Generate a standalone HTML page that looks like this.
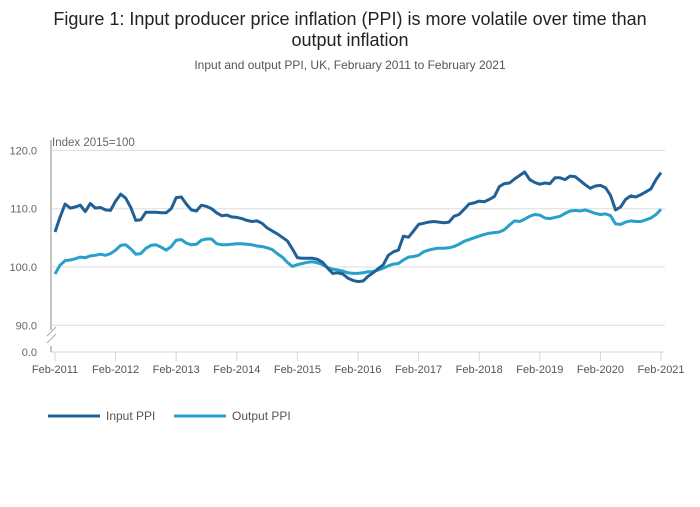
<!DOCTYPE html>
<html><head><meta charset="utf-8"><style>
body{margin:0;background:#fff;font-family:"Liberation Sans",sans-serif;}
</style></head><body>
<svg width="700" height="502" viewBox="0 0 700 502">
<text x="350" y="25" text-anchor="middle" font-size="18" fill="#222">Figure 1: Input producer price inflation (PPI) is more volatile over time than</text>
<text x="350" y="46" text-anchor="middle" font-size="18" fill="#222">output inflation</text>
<text x="350" y="69" text-anchor="middle" font-size="12" fill="#555">Input and output PPI, UK, February 2011 to February 2021</text>
<text x="52" y="146" font-size="11.5" fill="#666">Index 2015=100</text>
<g id="grid"></g><g id="axes"></g><g id="series"></g>
<g>
<line x1="48" y1="416" x2="100" y2="416" stroke="#206095" stroke-width="3"/>
<text x="106" y="420" font-size="12" fill="#555">Input PPI</text>
<line x1="174" y1="416" x2="226" y2="416" stroke="#27a0cc" stroke-width="3"/>
<text x="232" y="420" font-size="12" fill="#555">Output PPI</text>
</g>
</svg>
<script>
const yTicks=[90,100,110,120];
const yTickLabels=["90.0","100.0","110.0","120.0"];
const xTickLabels=["Feb-2011","Feb-2012","Feb-2013","Feb-2014","Feb-2015","Feb-2016","Feb-2017","Feb-2018","Feb-2019","Feb-2020","Feb-2021"];
const inputPPI=[106,108.5,110.8,110.1,110.3,110.6,109.5,110.9,110.1,110.2,109.8,109.7,
111.3,112.5,111.8,110.2,108.0,108.1,109.4,109.4,109.4,109.3,109.3,110.0,
111.9,112.0,110.8,109.8,109.6,110.6,110.4,110.0,109.3,108.8,108.9,108.6,
108.5,108.3,108.0,107.8,107.9,107.5,106.7,106.2,105.7,105.1,104.5,103.1,
101.6,101.5,101.5,101.5,101.3,100.8,99.8,98.9,99.0,98.8,98.1,97.7,
97.5,97.6,98.4,99.0,99.7,100.4,102.0,102.6,102.9,105.3,105.1,106.2,
107.3,107.5,107.7,107.8,107.7,107.6,107.7,108.7,109.0,109.9,110.8,111.0,
111.3,111.2,111.6,112.1,113.8,114.3,114.4,115.1,115.7,116.3,115.0,114.5,
114.2,114.4,114.3,115.3,115.3,115.0,115.6,115.5,114.8,114.1,113.5,113.9,
114.0,113.6,112.3,109.8,110.3,111.6,112.2,112.0,112.4,112.9,113.4,115.0,116.2];
const outputPPI=[98.8,100.3,101.1,101.2,101.4,101.7,101.6,101.9,102.0,102.2,102.0,102.3,
102.9,103.7,103.8,103.1,102.2,102.3,103.2,103.7,103.8,103.4,102.9,103.5,
104.6,104.7,104.1,103.8,103.9,104.6,104.8,104.8,104.0,103.8,103.8,103.9,
104.0,104.0,103.9,103.8,103.6,103.5,103.3,103.0,102.3,101.7,100.8,100.1,
100.4,100.6,100.8,100.9,100.7,100.4,99.9,99.6,99.5,99.3,99.0,98.9,
98.9,99.0,99.2,99.2,99.5,99.8,100.2,100.5,100.6,101.2,101.7,101.8,
102.0,102.6,102.9,103.1,103.2,103.2,103.3,103.5,103.9,104.4,104.7,105.0,
105.3,105.6,105.8,105.9,106.0,106.4,107.2,107.9,107.8,108.2,108.7,109.0,
108.9,108.4,108.3,108.5,108.7,109.2,109.6,109.7,109.6,109.8,109.5,109.2,
109.0,109.1,108.8,107.4,107.3,107.7,107.9,107.8,107.8,108.1,108.4,109.0,109.9];
const NS="http://www.w3.org/2000/svg";
const X0=55,X1=661,Y100=267,PX=5.83;
function x(i){return X0+(X1-X0)*i/120;}
function y(v){return Y100-(v-100)*PX;}
function mk(tag,attrs,parent){const e=document.createElementNS(NS,tag);for(const k in attrs)e.setAttribute(k,attrs[k]);document.getElementById(parent).appendChild(e);return e;}
yTicks.forEach((t,i)=>{
 const g=mk('line',{x1:52,x2:665,y1:y(t),y2:y(t),stroke:'#ddd','stroke-width':1},'grid');
 
 
 const l=mk('text',{x:37,y:y(t)+4,'text-anchor':'end','font-size':11,fill:'#666'},'grid');
 l.textContent=yTickLabels[i];
 
 
});
const z=mk('text',{x:37,y:356,'text-anchor':'end','font-size':11,fill:'#666'},'axes');
z.textContent="0.0";


const ya=mk('path',{d:'M51 140 V330 M51 346 V352',stroke:'#888','stroke-width':1,fill:'none'},'axes');


const br=mk('path',{d:'M47 336 L56 327 M47 343 L56 334',stroke:'#aaa','stroke-width':1,fill:'none'},'axes');


const xa=mk('line',{x1:51,x2:665,y1:352,y2:352,stroke:'#ccd6e6','stroke-width':1},'axes');


xTickLabels.forEach((lab,k)=>{
 const xx=x(k*12);
 const t=mk('line',{x1:xx,x2:xx,y1:352,y2:361,stroke:'#ccd6e6','stroke-width':1},'axes');
 
 
 const l=mk('text',{x:xx,y:373,'text-anchor':'middle','font-size':11,fill:'#555'},'axes');
 l.textContent=lab;
 
 
});
function line(data,color,name){
 const d=data.map((v,i)=>(i?'L':'M')+x(i).toFixed(1)+' '+y(v).toFixed(1)).join(' ');
 const p=mk('path',{d:d,stroke:color,'stroke-width':3,fill:'none','stroke-linejoin':'round'},'series');
 
 
}
line(outputPPI,'#27a0cc','output-ppi-line');
line(inputPPI,'#206095','input-ppi-line');
</script>
</body></html>
